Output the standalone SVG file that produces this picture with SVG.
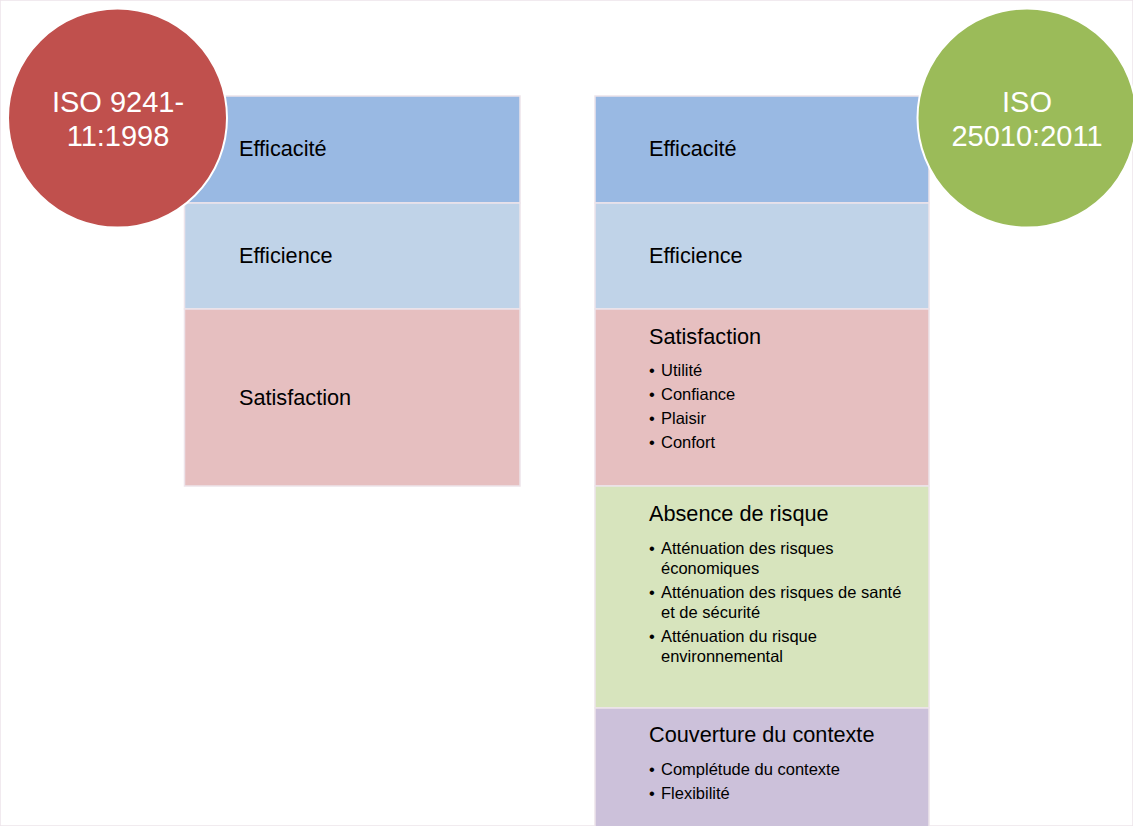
<svg xmlns="http://www.w3.org/2000/svg" width="1133" height="826" viewBox="0 0 1133 826">
<style>
.t{font-family:"Liberation Sans",Arial,sans-serif;fill:#000}
.h{font-size:21.7px}
.b{font-size:16.5px}
.c{font-family:"Liberation Sans",Arial,sans-serif;font-size:29px;fill:#fff;text-anchor:middle}
.blue{fill:#99B9E3}
.lblue{fill:#C0D3E8}
.pink{fill:#E6BFC0}
.green{fill:#D7E4BD}
.purple{fill:#CCC1DA}
rect{stroke:#EDE4EA;stroke-width:1.5}
</style>
<rect width="1133" height="826" fill="#fff" stroke="none"/>
<g id="left-efficacite"><rect class="blue" x="184.5" y="96" width="335.5" height="107"/><text class="t h" x="239" y="156">Efficacité</text></g>
<g id="left-efficience"><rect class="lblue" x="184.5" y="203" width="335.5" height="106"/><text class="t h" x="239" y="263">Efficience</text></g>
<g id="left-satisfaction"><rect class="pink" x="184.5" y="309" width="335.5" height="177"/><text class="t h" x="239" y="405">Satisfaction</text></g>
<g id="right-efficacite"><rect class="blue" x="595" y="96" width="334" height="107"/><text class="t h" x="649" y="156">Efficacité</text></g>
<g id="right-efficience"><rect class="lblue" x="595" y="203" width="334" height="106"/><text class="t h" x="649" y="263">Efficience</text></g>
<g id="right-satisfaction"><rect class="pink" x="595" y="309" width="334" height="177"/>
<text class="t h" x="649" y="344">Satisfaction</text>
<text class="t b" x="649" y="376">•</text><text class="t b" x="661" y="376">Utilité</text>
<text class="t b" x="649" y="400">•</text><text class="t b" x="661" y="400">Confiance</text>
<text class="t b" x="649" y="424">•</text><text class="t b" x="661" y="424">Plaisir</text>
<text class="t b" x="649" y="448">•</text><text class="t b" x="661" y="448">Confort</text></g>
<g id="right-absence"><rect class="green" x="595" y="486" width="334" height="222"/>
<text class="t h" x="649" y="521">Absence de risque</text>
<text class="t b" x="649" y="554">•</text><text class="t b" x="661" y="554">Atténuation des risques</text>
<text class="t b" x="661" y="574">économiques</text>
<text class="t b" x="649" y="598">•</text><text class="t b" x="661" y="598">Atténuation des risques de santé</text>
<text class="t b" x="661" y="618">et de sécurité</text>
<text class="t b" x="649" y="642">•</text><text class="t b" x="661" y="642">Atténuation du risque</text>
<text class="t b" x="661" y="662">environnemental</text></g>
<g id="right-couverture"><rect class="purple" x="595" y="708" width="334" height="120"/>
<text class="t h" x="649" y="742">Couverture du contexte</text>
<text class="t b" x="649" y="775">•</text><text class="t b" x="661" y="775">Complétude du contexte</text>
<text class="t b" x="649" y="799">•</text><text class="t b" x="661" y="799">Flexibilité</text></g>
<g id="iso9241"><circle cx="117.5" cy="118" r="109.5" fill="#C0504D" stroke="#fff" stroke-width="2"/>
<text class="c" x="118" y="112">ISO 9241-</text><text class="c" x="118" y="146">11:1998</text></g>
<g id="iso25010"><circle cx="1027" cy="118" r="109.5" fill="#9BBB59" stroke="#fff" stroke-width="2"/>
<text class="c" x="1027" y="112">ISO</text><text class="c" x="1027" y="146">25010:2011</text></g>
<g id="connectors"/>
</svg>
